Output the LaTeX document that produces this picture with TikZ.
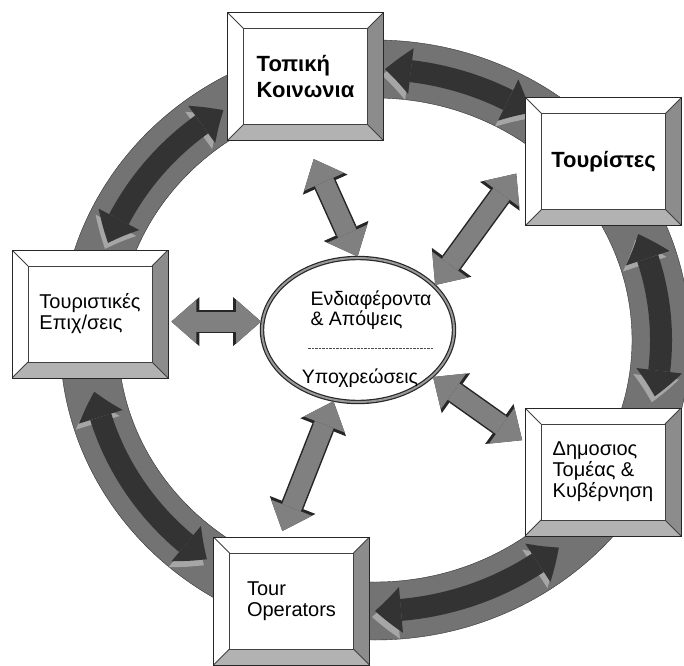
\documentclass[tikz,border=0pt]{standalone}
\usepackage{fontspec}
\setmainfont{Liberation Sans}
\usetikzlibrary{arrows.meta, bending, shapes.geometric}

\tikzset{
  % beveled frame of the five stakeholder boxes
  box/.style={draw=black!85, line width=0.8pt, fill=white, minimum width=156pt, minimum height=128pt,
    inner sep=0pt, align=left, font=\fontsize{20}{21}\selectfont,
    path picture={
      \fill[black!45] (path picture bounding box.north east) -- (path picture bounding box.south east)
        -- ([shift={(-16pt,16pt)}]path picture bounding box.south east) -- ([shift={(-16pt,-16pt)}]path picture bounding box.north east) -- cycle;
      \fill[black!30] (path picture bounding box.south west) -- (path picture bounding box.south east)
        -- ([shift={(-16pt,16pt)}]path picture bounding box.south east) -- ([shift={(16pt,16pt)}]path picture bounding box.south west) -- cycle;
      \draw[black!75] ([shift={(16pt,16pt)}]path picture bounding box.south west) rectangle ([shift={(-16pt,-16pt)}]path picture bounding box.north east);
      \draw[black!75] (path picture bounding box.north west) -- ([shift={(16pt,-16pt)}]path picture bounding box.north west);
      \draw[black!75] (path picture bounding box.north east) -- ([shift={(-16pt,-16pt)}]path picture bounding box.north east);
      \draw[black!75] (path picture bounding box.south west) -- ([shift={(16pt,16pt)}]path picture bounding box.south west);
      \draw[black!75] (path picture bounding box.south east) -- ([shift={(-16pt,16pt)}]path picture bounding box.south east);
    }},
  boldbox/.style={box, font=\fontsize{22}{26}\selectfont\bfseries},
  hubtext/.style={font=\fontsize{19.5}{20}\selectfont, align=left, inner sep=0pt},
  spoke/.style={line width=20pt, draw=black!50,
    {Triangle[width=44pt,length=25pt,line width=0pt]}-{Triangle[width=44pt,length=25pt,line width=0pt]},
    preaction={draw=black!85, line width=23pt,
      arrows={Triangle[width=49pt,length=28pt,line width=0pt]}-{Triangle[width=49pt,length=28pt,line width=0pt]}}},
  ringarrow/.style={line width=22pt, draw=black!80,
    {Triangle[width=46pt,length=26pt,line width=0pt,bend]}-{Triangle[width=46pt,length=26pt,line width=0pt,bend]},
    preaction={draw=black!35, transform canvas={shift={(-3pt,-6pt)}}}},
}

\begin{document}
\begin{tikzpicture}[x=1pt, y=1pt]
    \useasboundingbox (0,0) rectangle (684,665);
    \coordinate (o) at (375,325);

    % Outer ring
    \fill[black!55, draw=black!80, even odd rule] (o) ellipse [x radius=315pt, y radius=300pt]
        (o) ellipse [x radius=257pt, y radius=242pt];
    \foreach \a/\b in {88/57, 23/-12, -50/-90, -126/-169, 122/159} {
        \draw[ringarrow] ([shift={(\a:286pt and 271pt)}]o) arc[start angle=\a, end angle=\b, x radius=286pt, y radius=271pt];
    }

    % Stakeholders
    \node[boldbox] (topiki) at (305.5,588.5) {Τοπική\\Κοινωνια};
    \node[boldbox] (touristes) at (603.5,503.5) {Τουρίστες};
    \node[box] (epixeiriseis) at (90,351) {Τουριστικές\\Επιχ/σεις};
    \node[box] (dimosios) at (603,193) {Δημοσιος\\Τομέας \&\\Κυβέρνηση};
    \node[box] (tourops) at (291.5,64) {Tour\\Operators};

    % Centre
    \node[ellipse, minimum width=192pt, minimum height=144pt, inner sep=0pt, fill=white,
        draw=black!85, line width=1.2pt, double=black!40, double distance=2pt] (hub) at (358,335) {};
    \node[hubtext] (interests) at (371,355) {Ενδιαφέροντα\\\& Απόψεις};
    \draw[black!70, dash pattern=on 2.5pt off 1pt] (308,317) -- (433,317);
    \node[hubtext] (duties) at (360,287) {Υποχρεώσεις};

    % Spokes
    \draw[spoke, shorten >=20pt, shorten <=1pt] (hub.north) -- (topiki.south);
    \draw[spoke, shorten >=15pt, shorten <=1pt] (hub.30) -- (touristes.west);
    \draw[spoke, shorten >=3pt, shorten <=1pt] (hub.175) -- (hub.175 -| epixeiriseis.east);
    \draw[spoke, shorten >=3pt, shorten <=1pt] (hub.-32) -- (dimosios.159);
    \draw[spoke, shorten >=6pt, shorten <=1pt] (hub.-109) -- (tourops.100);
\end{tikzpicture}
\end{document}
